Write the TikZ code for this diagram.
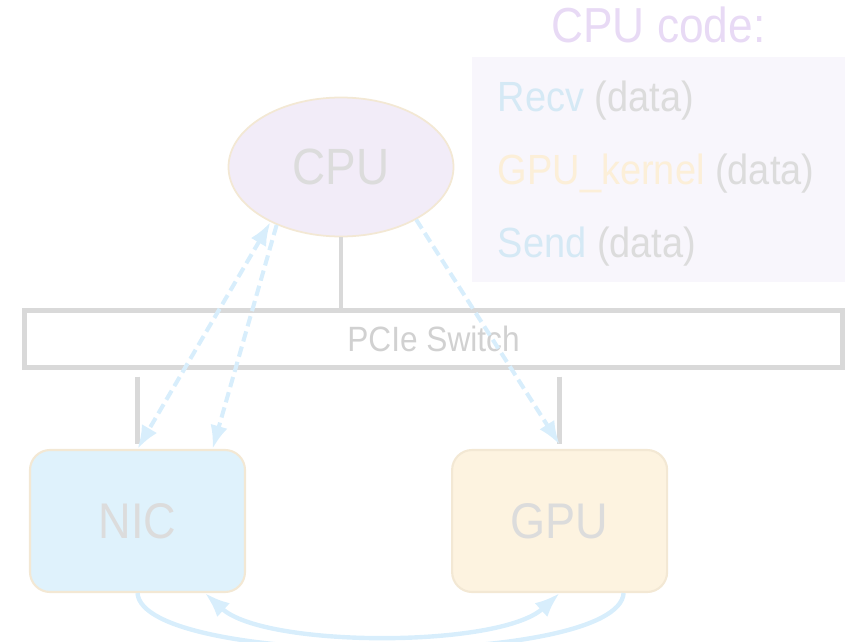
\documentclass[tikz,border=0pt]{standalone}
\usepackage{fontspec}
\setmainfont{Liberation Sans}[FakeStretch=0.9]
\usetikzlibrary{arrows.meta,positioning,shapes.geometric}
\definecolor{cpulilac}{HTML}{F2ECF8}
\definecolor{rimbeige}{HTML}{F3E8D4}
\definecolor{nicblue}{HTML}{DFF2FC}
\definecolor{gpucream}{HTML}{FDF3E0}
\definecolor{busgray}{HTML}{D9D9D9}
\definecolor{labelgray}{HTML}{DCDCDC}
\definecolor{flowblue}{HTML}{D8EEFC}
\definecolor{codepane}{HTML}{F8F6FC}
\definecolor{titlelilac}{HTML}{E8DAF5}
\definecolor{callblue}{HTML}{D5E9F5}
\definecolor{callorange}{HTML}{FCEFD8}

\begin{document}
\begin{tikzpicture}[>=Latex]
  \tikzset{cpunode/.style={ellipse,draw=rimbeige,line width=1pt,fill=cpulilac,minimum width=4.5cm,minimum height=2.78cm,text=labelgray,font=\fontsize{29}{32}\selectfont},
    cardbox/.style={draw=rimbeige,line width=1.2pt,rounded corners=0.4cm,minimum width=4.3cm,minimum height=2.84cm,text=labelgray,font=\fontsize{28.5}{32}\selectfont},
    switchbox/.style={draw=busgray,line width=2.85pt,minimum width=16.36cm,minimum height=1.14cm,text=labelgray!95!black,font=\fontsize{20}{24}\selectfont},
    busline/.style={busgray,line width=2.8pt},
    ctrlarrow/.style={flowblue,line width=2.3pt,dash pattern=on 6pt off 3pt,arrows={Straight Barb[length=6pt,width=13pt]-Straight Barb[length=6pt,width=13pt]}},
    dataarrow/.style={flowblue,line width=2.5pt,arrows={Stealth[length=10pt,width=10pt]-Stealth[length=10pt,width=10pt]}},
    codebox/.style={fill=codepane,minimum width=7.46cm,minimum height=4.5cm},
    codeline/.style={anchor=base west,text=labelgray,font=\fontsize{24}{28}\selectfont}}
  \useasboundingbox (0,0) rectangle (17.18,-12.82);
  \node[cpunode] (cpu) at (6.82,-3.34) {CPU};
  \node[switchbox] (sw) at (8.67,-6.78) {PCIe Switch};
  \node[cardbox,fill=nicblue] (nic) at (2.75,-10.42) {NIC};
  \node[cardbox,fill=gpucream,right=4.1cm of nic] (gpu) {GPU};
  % code pane
  \node[codebox] (code) at (13.17,-3.39) {};
  \node[anchor=base,text=titlelilac,font=\fontsize{28}{32}\selectfont] (title) at ([yshift=0.28cm]code.north) {CPU code:};
  \node[codeline] (recv) at ([xshift=0.4cm,yshift=-1.1cm]code.north west) {\textcolor{callblue}{Recv} (data)};
  \node[codeline] (kern) at ([yshift=-1.46cm]recv.base west) {\textcolor{callorange}{GPU\_kernel} (data)};
  \node[codeline] (send) at ([yshift=-1.46cm]kern.base west) {\textcolor{callblue}{Send} (data)};
  % bus
  \draw[busline] (cpu.south) -- (cpu.south |- sw.north);
  \draw[busline,shorten <=3.7pt,shorten >=2.8pt] (nic.north |- sw.south) -- (nic.north);
  \draw[busline,shorten <=3.7pt,shorten >=2.8pt] (gpu.north |- sw.south) -- (gpu.north);
  % control paths
  \draw[ctrlarrow,<->] (cpu.218) -- (nic.north);
  \draw[ctrlarrow,->] (cpu.222) -- ([xshift=1.5cm]nic.north);
  \draw[ctrlarrow,->] (cpu.325) -- ([yshift=2.5pt]gpu.north);
  % data paths
  \draw[dataarrow,-] (nic.south) .. controls +(0.1,-1.5) and +(-0.1,-1.5) .. ([xshift=1.28cm]gpu.south);
  \draw[dataarrow,<->] ([xshift=1.35cm]nic.south) .. controls +(1.2,-1.1) and +(-1.2,-1.1) .. (gpu.south);
\end{tikzpicture}
\end{document}
